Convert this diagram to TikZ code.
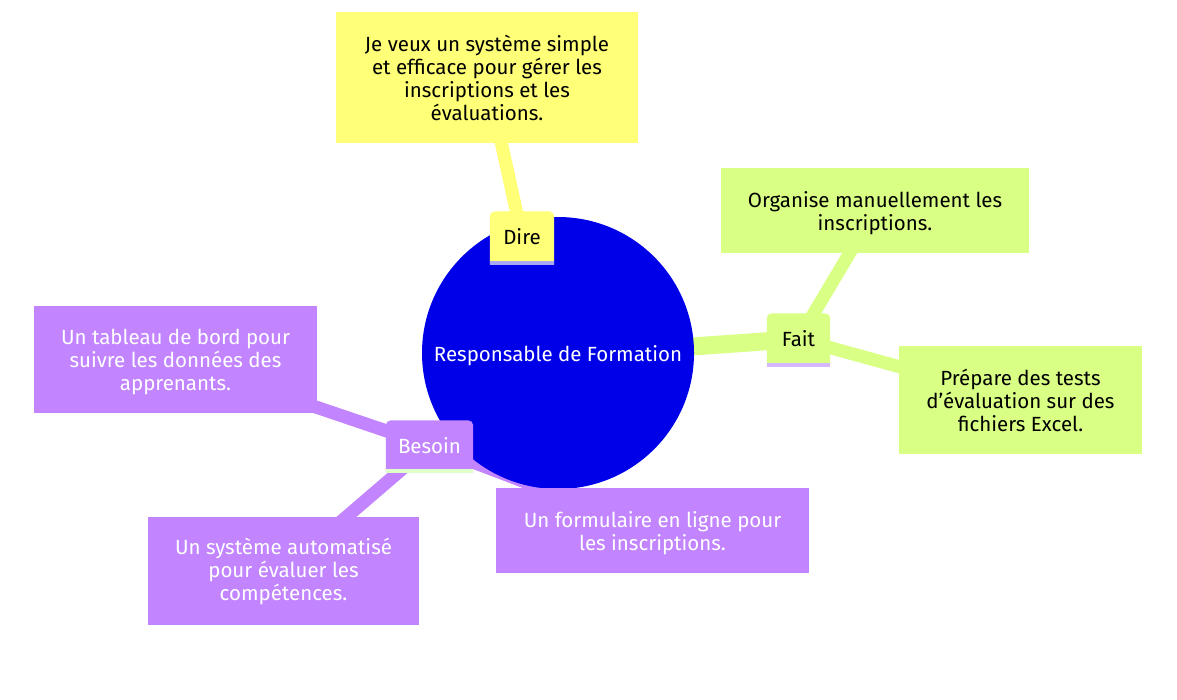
\documentclass[tikz,border=0pt]{standalone}
\usepackage{fontspec}
\setmainfont{Fira Sans}
\usetikzlibrary{calc}
\pgfdeclarelayer{edges}
\pgfdeclarelayer{boxes}
\pgfsetlayers{edges,boxes,main}
\definecolor{yel}{HTML}{FFFF78}
\definecolor{grn}{HTML}{D9FF85}
\definecolor{pur}{HTML}{C285FF}
\definecolor{rootblue}{HTML}{0000E8}
\definecolor{lineY}{HTML}{A8A8F5}
\definecolor{lineG}{HTML}{D6B8FF}
\definecolor{lineP}{HTML}{E0FFC8}
\newcommand{\lowerstrut}{\rule{0pt}{21pt}}
\begin{document}
\begin{tikzpicture}[x=1pt,y=-1pt,
  font=\fontsize{20.5}{23}\selectfont,
  leaf/.style={inner sep=0pt, align=center},
  sect/.style={inner sep=0pt, minimum height=51pt},
  trunk/.style={line width=18pt},
  branch/.style={line width=13pt}]
\useasboundingbox (0,0) rectangle (1177,699);

% central topic (its disc is filled on the boxes layer)
\node[circle, minimum size=272pt, inner sep=0pt, text=white] (root) at (558,356) {Responsable de Formation};

% section labels
\node[sect, minimum width=64pt] (dire) at (522,237) {Dire};
\node[sect, minimum width=63pt] (fait) at (798.5,339) {Fait};
\node[sect, minimum width=87pt, minimum height=50pt, text=white] (besoin) at (429.5,445.5) {Besoin};

% leaves
\node[leaf, fill=yel, minimum width=302pt, minimum height=131pt] (d1) at (487,77.5)
  {Je veux un système simple\\et efficace pour gérer les\\inscriptions et les\\évaluations.};
\node[leaf, fill=grn, minimum width=308pt, minimum height=85pt] (f1) at (875,210.5)
  {\lowerstrut Organise manuellement les\\inscriptions.};
\node[leaf, fill=grn, minimum width=243pt, minimum height=108pt] (f2) at (1020.5,400)
  {Prépare des tests\\d’évaluation sur des\\fichiers Excel.};
\node[leaf, fill=pur, text=white, minimum width=283pt, minimum height=107pt] (b1) at (175.5,359.5)
  {\lowerstrut Un tableau de bord pour\\suivre les données des\\apprenants.};
\node[leaf, fill=pur, text=white, minimum width=271pt, minimum height=108pt] (b2) at (283.5,571)
  {Un système automatisé\\pour évaluer les\\compétences.};
\node[leaf, fill=pur, text=white, minimum width=313pt, minimum height=85pt] (b3) at (652.5,530.5)
  {\lowerstrut Un formulaire en ligne pour\\les inscriptions.};

% disc of the central topic, then section boxes: rounded top, coloured rule along the bottom
\begin{pgfonlayer}{boxes}
  \fill[rootblue] ($(root.center)+(0,-3)$) circle (136pt);
  \foreach \n/\c/\r in {dire/yel/lineY, fait/grn/lineG, besoin/pur/lineP}{
    \fill[\c] ($(\n.south west)+(0,2)$) [rounded corners=5pt] -- (\n.north west) -- (\n.north east) [sharp corners] -- ($(\n.south east)+(0,2)$) -- cycle;
    \fill[\r] ($(\n.south west)+(0,2)$) rectangle ($(\n.south east)+(0,-2)$);
  }
\end{pgfonlayer}

% connectors
\begin{pgfonlayer}{edges}
  \draw[trunk, yel] (root.center) -- (dire.center);
  \draw[trunk, grn] (root.center) -- (fait.center);
  \draw[trunk, pur] (root.center) -- (besoin.center);
  \draw[branch, yel] (dire.center) -- (d1.center);
  \draw[branch, grn] (fait.center) -- (f1.center);
  \draw[branch, grn] (fait.center) -- (f2.center);
  \draw[branch, pur] (besoin.center) -- (b1.center);
  \draw[branch, pur] (besoin.center) -- (b2.center);
  \draw[branch, pur] (besoin.center) -- (b3.center);
\end{pgfonlayer}
\end{tikzpicture}
\end{document}
